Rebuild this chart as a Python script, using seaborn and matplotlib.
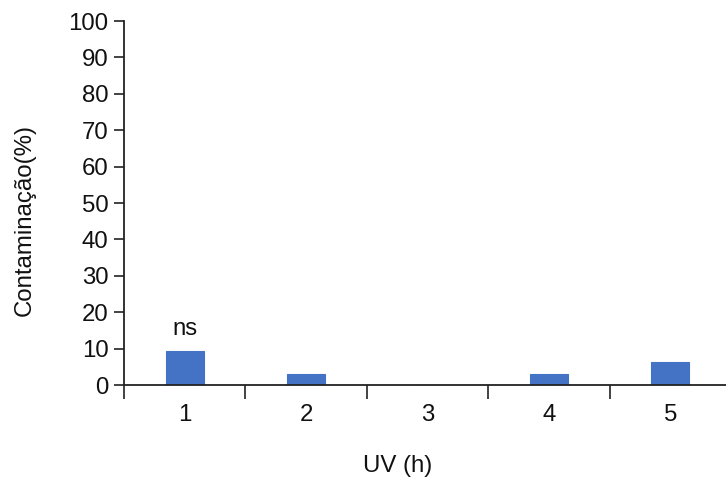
import matplotlib
matplotlib.use("Agg")
import matplotlib.pyplot as plt
import seaborn as sns
import pandas as pd
import numpy as np

categories = ["1", "2", "3", "4", "5"]
values = [9.375, 3.125, 0.0, 3.125, 6.25]
annotations = ["ns", "", "", "", ""]
yticks = [0, 10, 20, 30, 40, 50, 60, 70, 80, 90, 100]

sns.set_theme(style="ticks")
plt.rcParams['font.family'] = ['Liberation Sans', 'DejaVu Sans']

FS = 17.3
W, H = 726, 479
fig = plt.figure(figsize=(W / 100, H / 100), dpi=100)
left, right, top, bottom = 124, 731, 21, 385
ax = fig.add_axes([left / W, 1 - bottom / H, (right - left) / W, (bottom - top) / H])

df = pd.DataFrame({"UV": categories, "val": values})
sns.barplot(data=df, x="UV", y="val", color="#4472C4", saturation=1, width=0.31,
            edgecolor="#4472C4", linewidth=0.8, ax=ax)

ax.set_xlim(-0.5, 4.5)
ax.set_ylim(0, 100)
ax.set_yticks(yticks)
ax.set_yticklabels([str(t) for t in yticks], fontsize=FS, color="#111111")

ax.set_xticks(range(len(categories)))
ax.set_xticklabels(categories, fontsize=FS, color="#111111")
ax.tick_params(axis="x", which="major", length=0, pad=14)
ax.set_xticks(np.arange(-0.5, 4.5, 1.0), minor=True)
ax.tick_params(axis="x", which="minor", length=10, width=1.2, color="#222222", direction="out")
ax.tick_params(axis="y", length=7, width=1.2, color="#222222", direction="out", pad=4)

for s in ["top", "right"]:
    ax.spines[s].set_visible(False)
for s in ["left", "bottom"]:
    ax.spines[s].set_color("#222222")
    ax.spines[s].set_linewidth(1.3)

for i, (v, a) in enumerate(zip(values, annotations)):
    if a:
        ax.text(i, v + 3, a, ha="center", va="bottom", fontsize=FS, color="#111111")

ax.set_ylabel("Contaminação(%)", fontsize=FS, color="#111111")
ax.set_xlabel("UV (h)", fontsize=FS, color="#111111")
# place labels in axes-fraction coordinates
ax.yaxis.set_label_coords((25 - left) / (right - left), (bottom - 220) / (bottom - top))
ax.xaxis.set_label_coords((398 - left) / (right - left), -(466 - bottom) / (bottom - top))
ax.xaxis.label.set_va("center")
ax.yaxis.label.set_va("center")

fig.savefig("out.png", dpi=100)
